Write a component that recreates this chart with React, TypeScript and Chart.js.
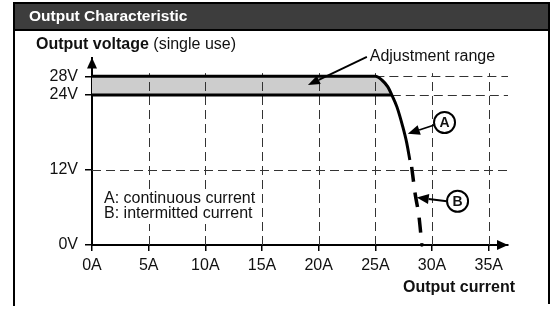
import React, { useEffect, useRef } from 'react';
import { Chart, registerables } from 'chart.js';

Chart.register(...registerables);

// ---- data ----
const xTickValues = [0, 5, 10, 15, 20, 25, 30, 35];
const xTickLabels = ['0A', '5A', '10A', '15A', '20A', '25A', '30A', '35A'];
const yTickValues = [0, 12, 24, 27];
const yTickLabels = ['0V', '12V', '24V', '28V'];
const xMax = 36.7;
const yMax = 30;

// 28V setting + continuous current curve (A)
const upperCurrent = [0, 25, 25.57, 26.1, 26.45, 26.9, 27.42, 27.77, 28.04];
const upperVoltage = [27, 27, 26.4, 25.3, 24, 22.1, 18.9, 16.3, 13.6];
// 24V setting
const lowerCurrent = [0, 26.45];
const lowerVoltage = [24, 24];
// adjustment range band (upper edge)
const bandCurrent = [0, 25, 25.57, 26.1, 26.45];
const bandVoltage = [27, 27, 26.4, 25.3, 24];
// intermittent current (B)
const intermittentCurrent = [28.2, 28.5, 28.85, 29.1];
const intermittentVoltage = [12.5, 8.3, 4.5, 0];

// dashed grid
const gridCurrents = [5, 10, 15, 20, 25, 30, 35];
const gridTopVoltage = 27.5;
const gridLevels = [12, 24, 27];
const gridLevelStarts = [0, 26.45, 25];

// texts
const titleText = 'Output Characteristic';
const yTitleBold = 'Output voltage';
const yTitleNormal = ' (single use)';
const xTitle = 'Output current';
const rangeLabel = 'Adjustment range';
const noteLines = ['A: continuous current', 'B: intermitted current'];
const noteX = 1.06;
const noteY = [7.36, 4.96];
const rangeLabelPos = [24.5, 30.2];
const rangeArrowFrom = [24.25, 30.1];
const rangeArrowTo = [19.05, 25.6];
const markerLetters = ['A', 'B'];
const markerCenters = [[31.1, 19.6], [32.25, 7.0]];
const markerArrowFrom = [[30.2, 19.2], [31.3, 7.0]];
const markerArrowTo = [[27.86, 17.8], [28.65, 7.6]];

const FONT = '"Liberation Sans", Arial, Helvetica, sans-serif';

const toPts = (xs: number[], ys: number[]) => xs.map((x, i) => ({ x, y: ys[i] }));

function drawArrow(ctx: CanvasRenderingContext2D, x1: number, y1: number, x2: number, y2: number, head = 10, half = 4, lw = 1.6) {
  const ang = Math.atan2(y2 - y1, x2 - x1);
  const bx = x2 - Math.cos(ang) * head;
  const by = y2 - Math.sin(ang) * head;
  ctx.save();
  ctx.strokeStyle = '#000';
  ctx.fillStyle = '#000';
  ctx.lineWidth = lw;
  ctx.setLineDash([]);
  ctx.beginPath();
  ctx.moveTo(x1, y1);
  ctx.lineTo(bx, by);
  ctx.stroke();
  ctx.beginPath();
  ctx.moveTo(x2, y2);
  ctx.lineTo(bx + Math.sin(ang) * half, by - Math.cos(ang) * half);
  ctx.lineTo(bx - Math.sin(ang) * half, by + Math.cos(ang) * half);
  ctx.closePath();
  ctx.fill();
  ctx.restore();
}

const BAND_INDEX = 3;

const decorPlugin = {
  id: 'decor',
  beforeDraw(chart: any) {
    const ctx: CanvasRenderingContext2D = chart.ctx;
    ctx.save();
    ctx.fillStyle = '#fff';
    ctx.fillRect(0, 0, chart.width, chart.height);
    // header
    ctx.fillStyle = '#3d3d3d';
    ctx.fillRect(14, 3, 535, 27);
    ctx.strokeStyle = '#000';
    ctx.lineWidth = 2;
    ctx.beginPath();
    ctx.moveTo(14, 306);
    ctx.lineTo(14, 3);
    ctx.lineTo(549, 3);
    ctx.lineTo(549, 304);
    ctx.stroke();
    ctx.beginPath();
    ctx.moveTo(14, 30);
    ctx.lineTo(549, 30);
    ctx.stroke();
    ctx.fillStyle = '#fff';
    ctx.font = `bold 15.5px ${FONT}`;
    ctx.textBaseline = 'middle';
    ctx.textAlign = 'left';
    ctx.fillText(titleText, 29, 17);
    // y title
    ctx.fillStyle = '#111';
    ctx.font = `bold 16px ${FONT}`;
    ctx.fillText(yTitleBold, 36, 45);
    const w = ctx.measureText(yTitleBold).width;
    ctx.font = `16px ${FONT}`;
    ctx.fillText(yTitleNormal, 36 + w, 45);
    ctx.restore();
  },
  afterDatasetDraw(chart: any, args: any) {
    if (args.index !== BAND_INDEX) return;
    const ctx: CanvasRenderingContext2D = chart.ctx;
    const xs = chart.scales.x;
    const ys = chart.scales.y;
    ctx.save();
    ctx.strokeStyle = '#333';
    ctx.lineWidth = 1;
    ctx.setLineDash([9, 5]);
    gridCurrents.forEach((c) => {
      const px = Math.round(xs.getPixelForValue(c)) + 0.5;
      ctx.beginPath();
      ctx.moveTo(px, ys.getPixelForValue(0));
      ctx.lineTo(px, ys.getPixelForValue(gridTopVoltage));
      ctx.stroke();
    });
    gridLevels.forEach((v, i) => {
      const py = Math.round(ys.getPixelForValue(v)) + 0.5;
      ctx.beginPath();
      ctx.moveTo(xs.getPixelForValue(gridLevelStarts[i]), py);
      ctx.lineTo(xs.getPixelForValue(xMax), py);
      ctx.stroke();
    });
    ctx.restore();
  },
  afterDraw(chart: any) {
    const ctx: CanvasRenderingContext2D = chart.ctx;
    const xs = chart.scales.x;
    const ys = chart.scales.y;
    const X = (v: number) => xs.getPixelForValue(v);
    const Y = (v: number) => ys.getPixelForValue(v);
    ctx.save();
    // axis arrows
    ctx.fillStyle = '#000';
    const x0 = X(0), y0 = Y(0);
    const xe = X(xMax), ye = Y(yMax);
    ctx.beginPath();
    ctx.moveTo(xe, y0);
    ctx.lineTo(xe - 11, y0 - 5);
    ctx.lineTo(xe - 11, y0 + 5);
    ctx.closePath();
    ctx.fill();
    ctx.beginPath();
    ctx.moveTo(x0, ye);
    ctx.lineTo(x0 - 5, ye + 11);
    ctx.lineTo(x0 + 5, ye + 11);
    ctx.closePath();
    ctx.fill();

    // x title
    ctx.fillStyle = '#111';
    ctx.font = `bold 16px ${FONT}`;
    ctx.textAlign = 'left';
    ctx.textBaseline = 'middle';
    ctx.fillText(xTitle, 403, 288);

    // notes (white box behind the text hides the grid)
    ctx.font = `16px ${FONT}`;
    const nx = X(noteX);
    const widest = Math.max(...noteLines.map((t) => ctx.measureText(t).width));
    ctx.fillStyle = '#fff';
    ctx.fillRect(nx - 3, Y(noteY[0]) - 10, widest + 5, Y(noteY[noteY.length - 1]) - Y(noteY[0]) + 20);
    ctx.fillStyle = '#111';
    noteLines.forEach((t, i) => ctx.fillText(t, nx, Y(noteY[i])));

    // adjustment range
    ctx.fillText(rangeLabel, X(rangeLabelPos[0]), Y(rangeLabelPos[1]));
    drawArrow(ctx, X(rangeArrowFrom[0]), Y(rangeArrowFrom[1]), X(rangeArrowTo[0]), Y(rangeArrowTo[1]), 12, 4.5, 1.8);

    // markers
    markerLetters.forEach((l, i) => {
      const cx = X(markerCenters[i][0]);
      const cy = Y(markerCenters[i][1]);
      ctx.beginPath();
      ctx.arc(cx, cy, 10.5, 0, Math.PI * 2);
      ctx.fillStyle = '#fff';
      ctx.fill();
      ctx.lineWidth = 2;
      ctx.strokeStyle = '#000';
      ctx.stroke();
      ctx.fillStyle = '#111';
      ctx.font = `bold 14px ${FONT}`;
      ctx.textAlign = 'center';
      ctx.fillText(l, cx, cy + 0.5);
      drawArrow(ctx, X(markerArrowFrom[i][0]), Y(markerArrowFrom[i][1]), X(markerArrowTo[i][0]), Y(markerArrowTo[i][1]), 12, 5, 1.8);
    });
    ctx.restore();
  },
};

export default function App() {
  const ref = useRef<HTMLCanvasElement | null>(null);
  useEffect(() => {
    if (!ref.current) return;
    const chart = new Chart(ref.current, {
      type: 'line',
      data: {
        datasets: [
          {
            label: 'continuous',
            data: toPts(upperCurrent, upperVoltage),
            borderColor: '#000',
            borderWidth: 3,
            pointRadius: 0,
            cubicInterpolationMode: 'monotone',
            fill: false,
          },
          {
            label: 'lower',
            data: toPts(lowerCurrent, lowerVoltage),
            borderColor: '#000',
            borderWidth: 3,
            pointRadius: 0,
            fill: false,
          },
          {
            label: 'intermittent',
            data: toPts(intermittentCurrent, intermittentVoltage),
            borderColor: '#000',
            borderWidth: 3.5,
            borderDash: [15, 10.7],
            pointRadius: intermittentCurrent.map((_, i) => (i === intermittentCurrent.length - 1 ? 1.8 : 0)),
            pointBorderWidth: 0,
            pointBackgroundColor: '#000',
            clip: 4,
            cubicInterpolationMode: 'monotone',
            fill: false,
          },
          {
            label: 'band',
            data: toPts(bandCurrent, bandVoltage),
            borderWidth: 0,
            borderColor: 'rgba(0,0,0,0)',
            backgroundColor: '#cdcdcd',
            pointRadius: 0,
            fill: 1,
          },
        ],
      },
      options: {
        animation: false,
        responsive: false,
        devicePixelRatio: 1,
        layout: { padding: { left: 0, top: 57.5, right: 47, bottom: 0 } },
        plugins: { legend: { display: false }, tooltip: { enabled: false }, title: { display: false } },
        scales: {
          x: {
            type: 'linear',
            min: 0,
            max: xMax,
            afterFit: (s: any) => { s.height = 64; },
            afterBuildTicks: (s: any) => { s.ticks = xTickValues.map((v) => ({ value: v })); },
            ticks: {
              autoSkip: false,
              maxRotation: 0,
              padding: 5,
              color: '#111',
              font: { family: FONT, size: 16 },
              callback: (_v: any, i: number) => xTickLabels[i],
            },
            grid: { drawOnChartArea: false, drawTicks: true, tickLength: 6, color: '#000', lineWidth: 1.5 },
            border: { display: true, color: '#000', width: 2 },
          },
          y: {
            type: 'linear',
            min: 0,
            max: yMax,
            afterFit: (s: any) => { s.width = 92; },
            afterBuildTicks: (s: any) => { s.ticks = yTickValues.map((v) => ({ value: v })); },
            ticks: {
              autoSkip: false,
              padding: 7,
              color: '#111',
              font: { family: FONT, size: 16 },
              callback: (_v: any, i: number) => yTickLabels[i],
            },
            grid: { drawOnChartArea: false, drawTicks: true, tickLength: 7, color: '#000', lineWidth: 1.5 },
            border: { display: true, color: '#000', width: 2 },
          },
        },
      },
      plugins: [decorPlugin],
    } as any);
    return () => chart.destroy();
  }, []);
  return (
    <div style={{ position: 'absolute', left: 0, top: 0, width: 555, height: 309 }}>
      <canvas ref={ref} width={555} height={309} />
    </div>
  );
}
